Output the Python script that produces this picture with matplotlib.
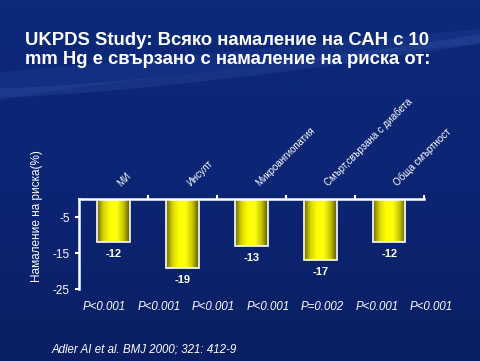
import numpy as np
import matplotlib.pyplot as plt
from matplotlib.patches import Polygon
from matplotlib.colors import LinearSegmentedColormap

plt.rcParams['font.family'] = ['Liberation Sans', 'DejaVu Sans']

title = "UKPDS Study: Всяко намаление на САН с 10\nmm Hg е свързано с намаление на риска от:"
categories = ["МИ", "Инсулт", "Микроангиопатия", "Смърт,свързана с диабета", "Обща смъртност"]
values = [-12, -19, -13, -17, -12]
p_values = ["P<0.001", "P<0.001", "P<0.001", "P<0.001", "P=0.002", "P<0.001", "P<0.001"]
ylabel = "Намаление на риска(%)"
yticks = [-5, -15, -25]
citation = "Adler AI et al. BMJ 2000; 321: 412-9"


def main():
    fig = plt.figure(figsize=(4.81, 3.61), dpi=100)

    # background gradient + soft swoosh
    bg = fig.add_axes([0, 0, 1, 1])
    bg.set_xlim(0, 1)
    bg.set_ylim(0, 1)
    bg.axis("off")
    grad = np.linspace(0, 1, 256).reshape(-1, 1)
    cmap_bg = LinearSegmentedColormap.from_list("bg", ["#0a1f63", "#0c2574", "#0c297a"])
    bg.imshow(grad, extent=[0, 1, 1, 0], cmap=cmap_bg, aspect="auto", origin="upper")
    xs = np.linspace(0, 1, 100)
    low = 0.72 + 0.16 * xs ** 0.8
    high = 0.80 + 0.12 * xs
    pts = np.vstack([np.c_[xs, low], np.c_[xs[::-1], high[::-1]]])
    bg.add_patch(Polygon(pts, closed=True, color="#3a5bb8", alpha=0.16, lw=0))
    low2 = 0.73 + 0.15 * xs ** 1.4
    pts2 = np.vstack([np.c_[xs, low2], np.c_[xs[::-1], low2[::-1] + 0.025]])
    bg.add_patch(Polygon(pts2, closed=True, color="#6a8ad8", alpha=0.13, lw=0))

    fig.text(0.052, 0.912, title, color="white", fontsize=13.3, fontweight="bold",
             va="top", ha="left", linespacing=1.2)

    ax = fig.add_axes([0.164, 0.199, 0.717, 0.249])
    ax.patch.set_alpha(0)
    x = np.arange(len(values))
    ax.set_xlim(-0.5, len(values) - 0.5)
    ax.set_ylim(-25, 0)

    bars = ax.bar(x, values, width=0.47, color="none", edgecolor="white", linewidth=1.2, zorder=3)
    cmap_bar = LinearSegmentedColormap.from_list(
        "bar", ["#6e6a00", "#d8d800", "#ffff00", "#ffff10", "#c8c800", "#5c5800"])
    hgrad = np.linspace(0, 1, 128).reshape(1, -1)
    for b in bars:
        x0, y0 = b.get_x(), b.get_y()
        w, h = b.get_width(), b.get_height()
        im = ax.imshow(hgrad, extent=[x0, x0 + w, y0 + h, y0], cmap=cmap_bar,
                       aspect="auto", zorder=2)
        im.set_clip_path(b)
        ax.annotate(str(b.get_height()), (x0 + w / 2, y0 + h), xytext=(0, -5),
                    textcoords="offset points", ha="center", va="top",
                    color="white", fontsize=8, fontweight="bold")

    for i, c in enumerate(categories):
        ax.annotate(c, (i, 0), xytext=(7, 8), textcoords="offset points",
                    rotation=45, rotation_mode="anchor", ha="left", va="bottom",
                    color="white", fontsize=7, annotation_clip=False)

    ax.set_xticks(x + 0.5)
    ax.set_xticklabels([])
    ax.xaxis.set_ticks_position("top")
    ax.tick_params(axis="x", direction="out", length=3, width=1.5, color="white")
    ax.set_yticks(yticks)
    ax.set_yticklabels([str(t) for t in yticks])
    ax.tick_params(axis="y", direction="out", length=3, width=1.5, color="white",
                   labelcolor="white", labelsize=8.5)
    for s in ["bottom", "right"]:
        ax.spines[s].set_visible(False)
    for s in ["top", "left"]:
        ax.spines[s].set_color("white")
        ax.spines[s].set_linewidth(1.8)
    ax.set_autoscale_on(False)
    ax.set_ylabel(ylabel, color="white", fontsize=8.5)
    ax.yaxis.set_label_coords(-0.104, 0.81)

    for i, p in enumerate(p_values):
        fig.text((83 + i * 54.5) / 481, 1 - 307 / 361, p, color="white", fontsize=8.3,
                 fontstyle="italic", ha="left", va="center")

    fig.text(52 / 481, 1 - 350 / 361, citation, color="white", fontsize=8.3,
             fontstyle="italic", ha="left", va="center")

    plt.savefig("out.png", dpi=100)


if __name__ == "__main__":
    main()
